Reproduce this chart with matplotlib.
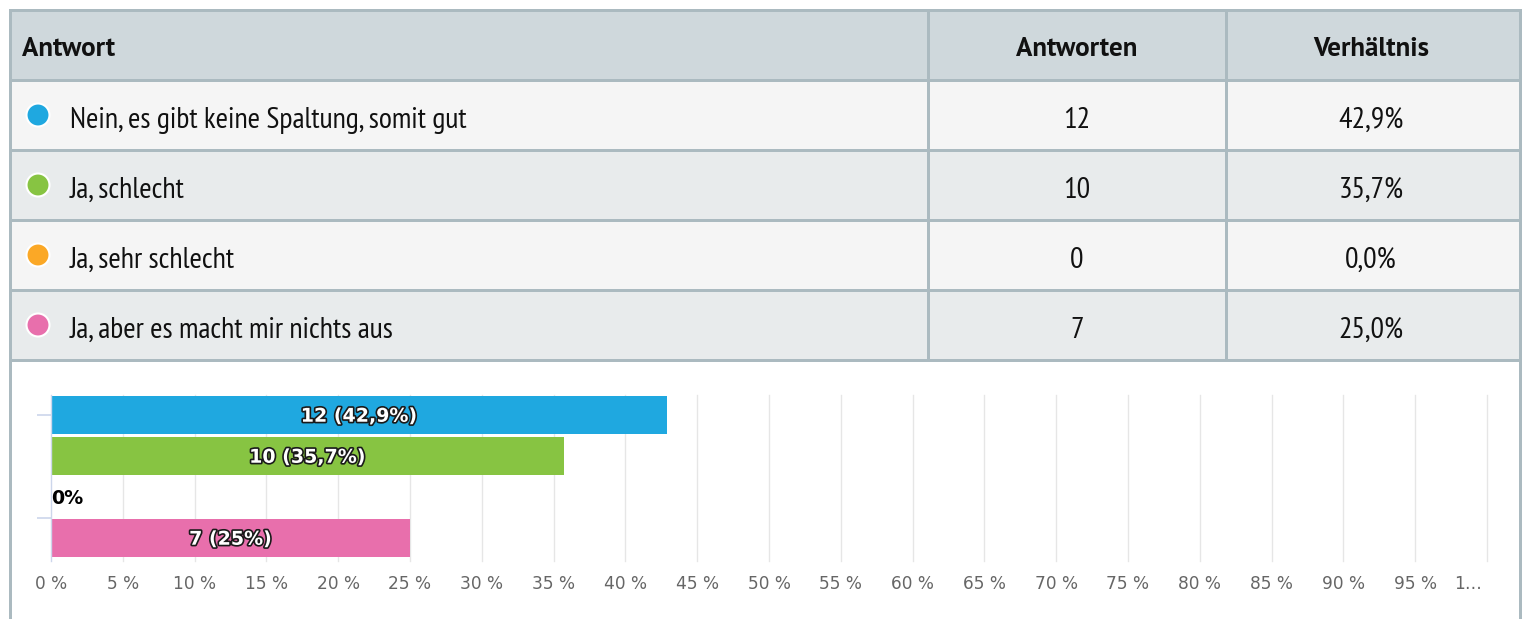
import matplotlib
matplotlib.use("Agg")
import matplotlib.pyplot as plt
import matplotlib.patheffects as pe
import matplotlib.transforms as mtransforms
from matplotlib.patches import Rectangle, Circle

# ---- data ----
answers = ["Nein, es gibt keine Spaltung, somit gut", "Ja, schlecht", "Ja, sehr schlecht",
           "Ja, aber es macht mir nichts aus"]
counts = [12, 10, 0, 7]
ratios = ["42,9%", "35,7%", "0,0%", "25,0%"]
percents = [42.9, 35.7, 0.0, 25.0]
bar_labels = ["12 (42,9%)", "10 (35,7%)", "0%", "7 (25%)"]
colors = ["#1fa8e0", "#87c442", "#fba826", "#e86fac"]
headers = ["Antwort", "Antworten", "Verhältnis"]
xticks = list(range(0, 101, 5))
xticklabels = [f"{t} %" for t in xticks[:-1]] + ["1…"]

W, H = 1522, 619
PX = 72 / 100  # px -> pt
fig = plt.figure(figsize=(W / 100, H / 100), dpi=100)
bg = fig.add_axes([0, 0, 1, 1])
bg.set_xlim(0, W)
bg.set_ylim(H, 0)
bg.axis("off")

TF = ["PT Sans Narrow", "IBM Plex Sans Condensed", "DejaVu Sans"]
HF = ["PT Sans", "PT Sans Narrow", "DejaVu Sans"]
border = "#abbac0"
L, R = 10, 1520
c1, c2 = 928, 1226
rows_y = [10, 80, 150, 220, 290, 360]
fills = ["#cfd8dc", "#f5f5f5", "#e8ebec", "#f5f5f5", "#e8ebec"]
for i in range(5):
    bg.add_patch(Rectangle((L, rows_y[i]), R - L, rows_y[i + 1] - rows_y[i],
                           facecolor=fills[i], edgecolor="none", zorder=0))
for y in rows_y:
    bg.plot([L, R], [y, y], color=border, lw=3 * PX, zorder=2)
for x in [L, R]:
    bg.plot([x, x], [10, H], color=border, lw=3 * PX, zorder=2)
for x in [c1, c2]:
    bg.plot([x, x], [10, 360], color=border, lw=3 * PX, zorder=2)

# header
hy = 56
hs = 27 * PX
bg.text(22, hy, headers[0], family=HF, fontweight="bold", fontsize=hs,
        ha="left", va="baseline", zorder=3, color="#111111")
bg.text((c1 + c2) / 2, hy, headers[1], family=HF, fontweight="bold", fontsize=hs,
        ha="center", va="baseline", zorder=3, color="#111111")
bg.text((c2 + R) / 2 - 2, hy, headers[2], family=HF, fontweight="bold", fontsize=hs,
        ha="center", va="baseline", zorder=3, color="#111111")

rs = 30 * PX
for i, (a, n, r) in enumerate(zip(answers, counts, ratios)):
    top = rows_y[i + 1]
    base = top + 48
    bg.add_patch(Circle((38, top + 35), 11.5, facecolor=colors[i], edgecolor="white",
                        lw=1.5, zorder=3))
    bg.text(70, base, a, family=TF, fontsize=rs, ha="left", va="baseline", zorder=3,
            color="#111111")
    bg.text((c1 + c2) / 2, base, str(n), family=TF, fontsize=rs, ha="center",
            va="baseline", zorder=3, color="#111111")
    bg.text((c2 + R) / 2 - 2, base, r, family=TF, fontsize=rs, ha="center",
            va="baseline", zorder=3, color="#111111")

# ---- bar chart ----
x0, x1 = 51, 1487
ytop, ybot = 394.5, 558.5
ax = fig.add_axes([x0 / W, (H - ybot) / H, (x1 - x0) / W, (ybot - ytop) / H])
ax.set_facecolor("none")
ypos = list(range(len(answers)))
ax.barh(ypos, percents, height=38 / 41, color=colors, zorder=2)
ax.set_xlim(0, 100)
ax.set_ylim(3.5, -0.5)
for s in ["top", "right", "bottom"]:
    ax.spines[s].set_visible(False)
ax.spines["left"].set_color("#ccd6eb")
ax.spines["left"].set_linewidth(1)
ax.spines["left"].set_bounds(-0.5, 3.55)
ax.set_xticks(xticks)
ax.set_xticklabels(xticklabels, family="DejaVu Sans", fontsize=17 * PX, color="#666666")
ax.tick_params(axis="x", length=0, pad=12)
lastlab = ax.get_xticklabels()[-1]
lastlab.set_transform(lastlab.get_transform() +
                      mtransforms.ScaledTranslation(-19 / 100, 0, fig.dpi_scale_trans))
for t in xticks[1:]:
    ax.plot([t, t], [-0.5, 3.55], color="#e6e6e6", lw=1, zorder=0, clip_on=False)
ax.set_yticks([0, 2.5])
ax.set_yticklabels([])
ax.tick_params(axis="y", length=10, color="#ccd6eb", width=1.2)

for i, (p, lab) in enumerate(zip(percents, bar_labels)):
    if p > 0:
        ax.text(p / 2, i + 0.03, lab, ha="center", va="center", fontsize=19 * PX,
                fontweight="bold", family="DejaVu Sans",
                color="white", zorder=4,
                path_effects=[pe.withStroke(linewidth=2.4, foreground="#1a1a1a")])
    else:
        ax.text(0.0, i + 0.03, lab, ha="left", va="center", fontsize=19 * PX,
                fontweight="bold", family="DejaVu Sans", color="black", zorder=4)

fig.savefig("out.png", dpi=100)
